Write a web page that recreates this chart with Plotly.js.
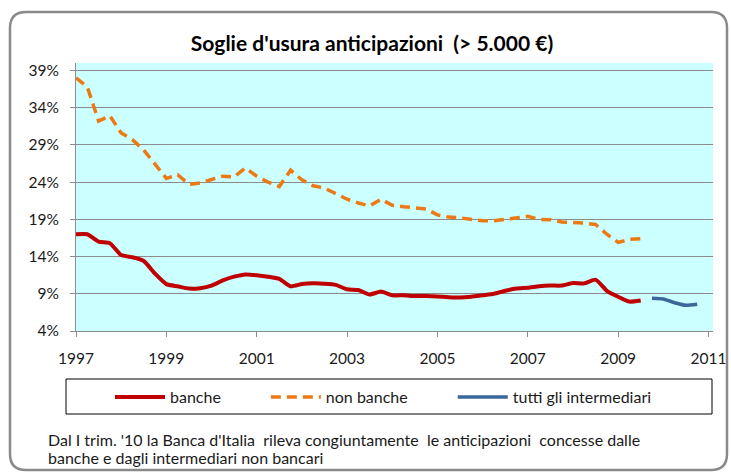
<!DOCTYPE html>
<html>
<head>
<meta charset="utf-8">
<script src="https://cdn.plot.ly/plotly-3.0.1.min.js"></script>
<style>
  html, body { margin: 0; padding: 0; background: #fff; }
  #chart { width: 731px; height: 472px; }
</style>
</head>
<body>
<div id="chart"></div>
<script>
// quarterly dates as decimal years, 1997 Q1 .. 2009 Q3
const quarters = [
  1997.00, 1997.25, 1997.50, 1997.75, 1998.00, 1998.25, 1998.50, 1998.75,
  1999.00, 1999.25, 1999.50, 1999.75, 2000.00, 2000.25, 2000.50, 2000.75,
  2001.00, 2001.25, 2001.50, 2001.75, 2002.00, 2002.25, 2002.50, 2002.75,
  2003.00, 2003.25, 2003.50, 2003.75, 2004.00, 2004.25, 2004.50, 2004.75,
  2005.00, 2005.25, 2005.50, 2005.75, 2006.00, 2006.25, 2006.50, 2006.75,
  2007.00, 2007.25, 2007.50, 2007.75, 2008.00, 2008.25, 2008.50, 2008.75,
  2009.00, 2009.25, 2009.50
];

// soglie banche (%)
const banche = [
  17.0, 17.0, 16.0, 15.8, 14.2, 13.9, 13.4, 11.7,
  10.3, 10.0, 9.7, 9.75, 10.1, 10.8, 11.3, 11.6,
  11.5, 11.3, 11.0, 10.0, 10.3, 10.4, 10.35, 10.2,
  9.6, 9.5, 8.9, 9.3, 8.8, 8.8, 8.7, 8.7,
  8.65, 8.55, 8.5, 8.6, 8.8, 9.0, 9.4, 9.7,
  9.8, 10.0, 10.1, 10.1, 10.45, 10.4, 10.9, 9.4,
  8.6, 7.95, 8.1
];

// soglie non banche (%)
const nonBanche = [
  38.0, 36.8, 32.2, 32.9, 30.6, 29.7, 28.3, 26.4,
  24.5, 25.0, 23.7, 23.9, 24.3, 24.8, 24.7, 25.9,
  24.8, 24.0, 23.4, 25.6, 24.3, 23.5, 23.2, 22.5,
  21.7, 21.2, 20.8, 21.7, 20.9, 20.7, 20.5, 20.4,
  19.6, 19.3, 19.2, 19.0, 18.8, 18.8, 19.0, 19.3,
  19.4, 19.0, 18.95, 18.65, 18.6, 18.5, 18.3, 17.0,
  15.9, 16.3, 16.4
];

// tutti gli intermediari, dal 2010
const quartersTutti = [2009.75, 2010.00, 2010.25, 2010.50, 2010.75];
const tutti = [8.4, 8.3, 7.8, 7.45, 7.6];

const yTicks = [4, 9, 14, 19, 24, 29, 34, 39];
const xTicks = [1997, 1999, 2001, 2003, 2005, 2007, 2009, 2011];

// page layout in pixels -> paper coords
const W = 731, H = 472;
const L = 76, R = 18, T = 63, B = 141;
const pw = W - L - R, ph = H - T - B;
const px = x => (x - L) / pw;
const py = y => (H - B - y) / ph;

function roundRect(x0, y0, x1, y1, r) {
  return 'M' + px(x0 + r) + ',' + py(y0) +
    ' L' + px(x1 - r) + ',' + py(y0) +
    ' Q' + px(x1) + ',' + py(y0) + ' ' + px(x1) + ',' + py(y0 + r) +
    ' L' + px(x1) + ',' + py(y1 - r) +
    ' Q' + px(x1) + ',' + py(y1) + ' ' + px(x1 - r) + ',' + py(y1) +
    ' L' + px(x0 + r) + ',' + py(y1) +
    ' Q' + px(x0) + ',' + py(y1) + ' ' + px(x0) + ',' + py(y1 - r) +
    ' L' + px(x0) + ',' + py(y0 + r) +
    ' Q' + px(x0) + ',' + py(y0) + ' ' + px(x0 + r) + ',' + py(y0) + ' Z';
}

const font = 'Lato, "Open Sans", sans-serif';
const pad = n => '\u2002'.repeat(n); // en spaces to space out legend entries

const traces = [
  {
    x: quarters, y: banche, name: 'banche' + pad(5), type: 'scatter', mode: 'lines',
    line: { color: '#C00000', width: 4, shape: 'spline', smoothing: 0.5 }
  },
  {
    x: quarters, y: nonBanche, name: 'non banche' + pad(5), type: 'scatter', mode: 'lines',
    line: { color: '#EC7A14', width: 3.5, dash: '10px,6px' }
  },
  {
    x: quartersTutti, y: tutti, name: 'tutti gli intermediari', type: 'scatter', mode: 'lines',
    line: { color: '#3B679A', width: 3.5, shape: 'spline', smoothing: 0.5 }
  }
];

const layout = {
  width: W, height: H,
  margin: { l: L, r: R, t: T, b: B },
  paper_bgcolor: '#fff',
  plot_bgcolor: '#CCFFFF',
  font: { family: font, size: 15.5, color: '#1a1a1a' },
  title: {
    text: "<b>Soglie d'usura anticipazioni  (> 5.000 €)</b>",
    font: { family: font, size: 21, color: '#000' },
    x: 372 / W, xref: 'container', xanchor: 'center',
    y: 1 - 44 / H, yref: 'container', yanchor: 'middle'
  },
  xaxis: {
    range: [1997, 2011.1],
    tickvals: xTicks,
    ticktext: xTicks.map(String),
    ticks: 'outside', ticklen: 5, tickcolor: '#8c8c8c',
    showgrid: false, zeroline: false,
    showline: true, linecolor: '#8c8c8c', linewidth: 1,
    ticklabelstandoff: 8,
    tickfont: { size: 15.5 }
  },
  yaxis: {
    range: [4, 40],
    tickvals: yTicks,
    ticktext: yTicks.map(v => v + '%'),
    ticks: 'outside', ticklen: 5, tickcolor: '#8c8c8c',
    showgrid: true, gridcolor: '#8c8c8c', gridwidth: 1,
    zeroline: false,
    showline: true, linecolor: '#8c8c8c', linewidth: 1,
    ticklabelstandoff: 8,
    tickfont: { size: 15.5 }
  },
  showlegend: true,
  legend: {
    orientation: 'h',
    x: px(110), xanchor: 'left',
    y: py(397), yanchor: 'middle',
    bgcolor: 'rgba(0,0,0,0)',
    borderwidth: 0,
    itemwidth: 50,
    font: { family: font, size: 16, color: '#1a1a1a' }
  },
  shapes: [
    {
      type: 'path', xref: 'paper', yref: 'paper',
      path: roundRect(10, 12, 727, 470, 16),
      line: { color: '#8a8a8a', width: 2.5 }
    },
    {
      type: 'rect', xref: 'paper', yref: 'paper',
      x0: px(66), x1: px(712), y0: py(379), y1: py(414),
      line: { color: '#000', width: 1 }
    }
  ],
  annotations: [
    {
      xref: 'paper', yref: 'paper',
      x: px(46), y: py(439), xanchor: 'left', yanchor: 'middle', align: 'left',
      showarrow: false,
      text: "Dal I trim. '10 la Banca d'Italia  rileva congiuntamente  le anticipazioni  concesse dalle",
      font: { family: font, size: 16, color: '#1a1a1a' }
    },
    {
      xref: 'paper', yref: 'paper',
      x: px(46), y: py(457), xanchor: 'left', yanchor: 'middle', align: 'left',
      showarrow: false,
      text: 'banche e dagli intermediari non bancari',
      font: { family: font, size: 16, color: '#1a1a1a' }
    }
  ]
};

Plotly.newPlot('chart', traces, layout, { staticPlot: true, displayModeBar: false });
</script>
</body>
</html>
